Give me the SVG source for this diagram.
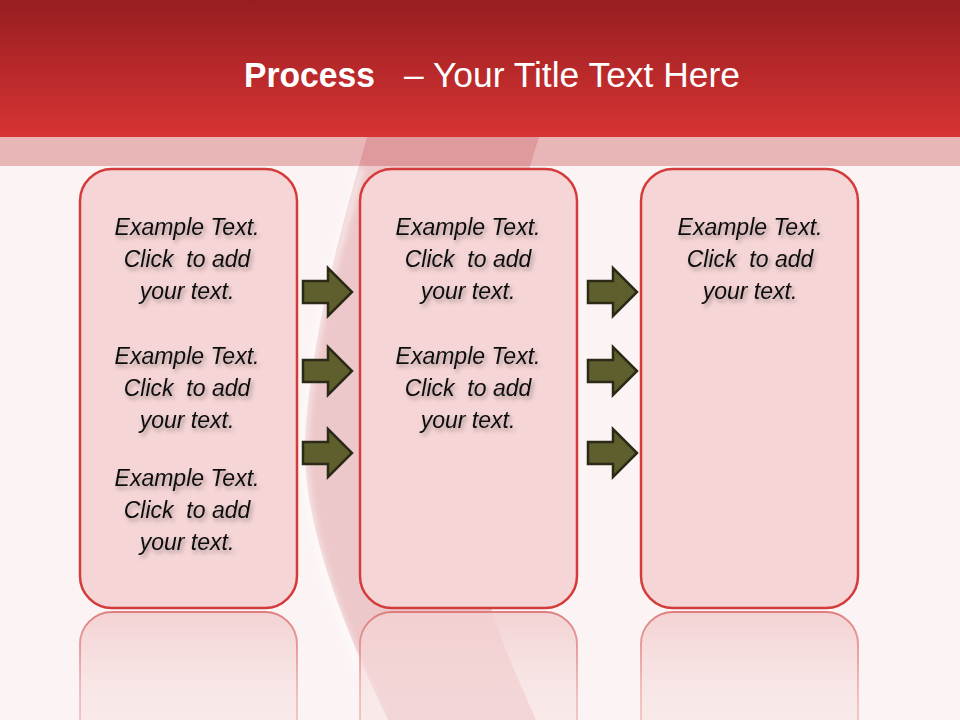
<svg xmlns="http://www.w3.org/2000/svg" xmlns:xlink="http://www.w3.org/1999/xlink" width="960" height="720" viewBox="0 0 960 720">
<defs>
<linearGradient id="hdr" x1="0" y1="0" x2="0" y2="1">
<stop offset="0" stop-color="#961e21"/>
<stop offset="1" stop-color="#d83333"/>
</linearGradient>
<linearGradient id="reflFill" x1="0" y1="0" x2="0" y2="1">
<stop offset="0" stop-color="#f3cfd0" stop-opacity="0.9"/>
<stop offset="0.4" stop-color="#f6dede" stop-opacity="0.6"/>
<stop offset="1" stop-color="#f9e8e8" stop-opacity="0.4"/>
</linearGradient>
<linearGradient id="reflStroke" x1="0" y1="0" x2="0" y2="1">
<stop offset="0" stop-color="#dc7474" stop-opacity="0.9"/>
<stop offset="0.4" stop-color="#ec9e9e" stop-opacity="0.6"/>
<stop offset="1" stop-color="#f0bcbc" stop-opacity="0.45"/>
</linearGradient>
<filter id="ts" x="-10%" y="-30%" width="130%" height="170%">
<feDropShadow dx="2" dy="3" stdDeviation="2" flood-color="#000" flood-opacity="0.32"/>
</filter>
<filter id="soft" x="-20%" y="-5%" width="140%" height="110%">
<feGaussianBlur stdDeviation="3"/>
</filter>
<path id="arrow" d="M0,-11 H25 V-24 L49,0 L25,24 V11 H0 Z"/>
<style>
.box{fill:#f6d5d6;stroke:#d43c3c;stroke-width:2.5}
.refl{fill:url(#reflFill);stroke:url(#reflStroke);stroke-width:2}
.t{font-family:"Liberation Sans",Arial,sans-serif;font-style:italic;font-size:23px;fill:#111;text-anchor:middle;filter:url(#ts)}
.arr{fill:#5f5f2e;stroke:#2a2a16;stroke-width:2.5;stroke-linejoin:miter}
.title{font-family:"Liberation Sans",Arial,sans-serif;font-size:35px;fill:#ffffff}
</style>
</defs>

<!-- background -->
<rect x="0" y="0" width="960" height="720" fill="#fcf4f4"/>
<rect x="0" y="0" width="960" height="137" fill="url(#hdr)"/>
<rect x="0" y="137" width="960" height="29" fill="#e9b6b7"/>

<!-- swoosh band -->
<path d="M367,137 C350,200 312,320 305,440 C302,520 340,620 388,720 L536,720 C510,660 480,600 474,520 C468,420 500,260 539,137 Z" fill="#c35058" fill-opacity="0.27"/>
<path d="M361,168 C345,230 310,330 305,440 C302,520 335,615 384,720" fill="none" stroke="#ffffff" stroke-opacity="0.7" stroke-width="5" filter="url(#soft)"/>

<!-- reflections -->
<g id="reflections">
<rect class="refl" x="80" y="612" width="217" height="200" rx="32" ry="32"/>
<rect class="refl" x="360" y="612" width="217" height="200" rx="32" ry="32"/>
<rect class="refl" x="641" y="612" width="217" height="200" rx="32" ry="32"/>
</g>

<!-- title -->
<g id="title">
<text class="title" x="244" y="87" font-weight="bold" textLength="131" lengthAdjust="spacingAndGlyphs">Process</text>
<text class="title" x="404" y="87" textLength="336" lengthAdjust="spacingAndGlyphs">– Your Title Text Here</text>
</g>

<!-- nodes -->
<g id="box1">
<rect class="box" x="80" y="169" width="217" height="439" rx="32" ry="32"/>
<text class="t" xml:space="preserve"><tspan x="187" y="235">Example Text.</tspan><tspan x="187" y="267">Click  to add</tspan><tspan x="187" y="299">your text.</tspan></text>
<text class="t" xml:space="preserve"><tspan x="187" y="364">Example Text.</tspan><tspan x="187" y="396">Click  to add</tspan><tspan x="187" y="428">your text.</tspan></text>
<text class="t" xml:space="preserve"><tspan x="187" y="486">Example Text.</tspan><tspan x="187" y="518">Click  to add</tspan><tspan x="187" y="550">your text.</tspan></text>
</g>
<g id="box2">
<rect class="box" x="360" y="169" width="217" height="439" rx="32" ry="32"/>
<text class="t" xml:space="preserve"><tspan x="468" y="235">Example Text.</tspan><tspan x="468" y="267">Click  to add</tspan><tspan x="468" y="299">your text.</tspan></text>
<text class="t" xml:space="preserve"><tspan x="468" y="364">Example Text.</tspan><tspan x="468" y="396">Click  to add</tspan><tspan x="468" y="428">your text.</tspan></text>
</g>
<g id="box3">
<rect class="box" x="641" y="169" width="217" height="439" rx="32" ry="32"/>
<text class="t" xml:space="preserve"><tspan x="750" y="235">Example Text.</tspan><tspan x="750" y="267">Click  to add</tspan><tspan x="750" y="299">your text.</tspan></text>
</g>

<!-- connectors -->
<g id="connectors">
<use xlink:href="#arrow" href="#arrow" class="arr" transform="translate(303,292)"/>
<use xlink:href="#arrow" href="#arrow" class="arr" transform="translate(303,371)"/>
<use xlink:href="#arrow" href="#arrow" class="arr" transform="translate(303,453)"/>
<use xlink:href="#arrow" href="#arrow" class="arr" transform="translate(588,292)"/>
<use xlink:href="#arrow" href="#arrow" class="arr" transform="translate(588,371)"/>
<use xlink:href="#arrow" href="#arrow" class="arr" transform="translate(588,453)"/>
</g>
</svg>
